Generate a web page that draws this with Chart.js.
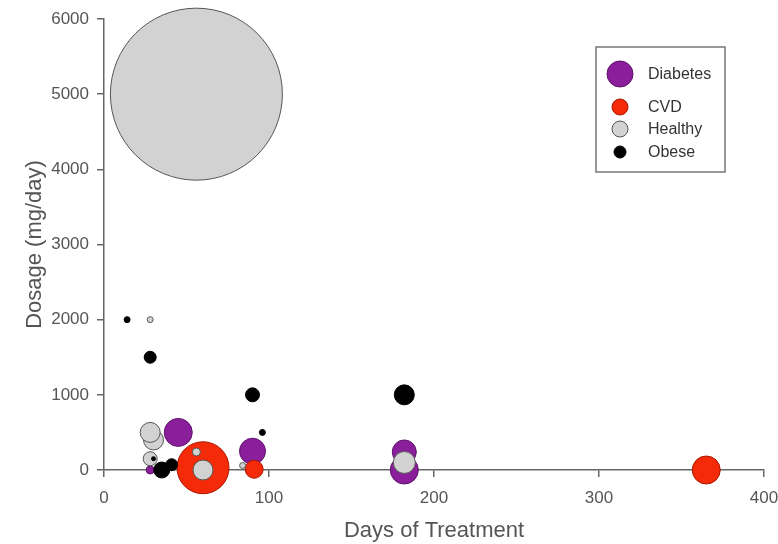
<!DOCTYPE html>
<html>
<head>
<meta charset="utf-8">
<script src="https://cdn.jsdelivr.net/npm/chart.js@4/dist/chart.umd.min.js"></script>
<style>
  html, body { margin: 0; padding: 0; background: #fff; }
  canvas { display: block; }
</style>
</head>
<body>
<canvas id="chart" width="778" height="544"></canvas>
<script>
// Bubble data: days, dosage (mg/day), bubble radius (px)
const seriesNames = ['Diabetes', 'CVD', 'Healthy', 'Obese'];

const diabetesDays = [182, 182, 90, 45, 28];
const diabetesDose = [0, 240, 250, 500, 0];
const diabetesSize = [14, 12, 13, 14, 4];

const cvdDays = [60, 91, 365];
const cvdDose = [30, 10, 0];
const cvdSize = [26, 9, 14];

const healthyDays = [56, 28, 30, 28, 28, 56, 60, 84, 182];
const healthyDose = [5000, 2000, 400, 500, 150, 240, 0, 60, 100];
const healthySize = [86, 3, 10, 10, 7, 4, 10, 3, 11];

const obeseDays = [14, 28, 90, 96, 182, 30, 35, 41];
const obeseDose = [2000, 1500, 1000, 500, 1000, 150, 0, 70];
const obeseSize = [3, 6, 7, 3, 10, 2, 8, 6];

const xTicks = [0, 100, 200, 300, 400];
const yTicks = [0, 1000, 2000, 3000, 4000, 5000, 6000];

// legend symbol sizes (px)
const legendSize = [13, 8, 8, 6];

const fills = ['#8b1f9b', '#f42a08', '#d2d2d2', '#000000'];
const borders = ['#5c1168', '#a81800', '#555555', '#000000'];

function points(xs, ys, rs) {
    return xs.map((x, i) => ({ x: x, y: ys[i], r: rs[i] }));
}

const dataSets = [
    points(diabetesDays, diabetesDose, diabetesSize),
    points(cvdDays, cvdDose, cvdSize),
    points(healthyDays, healthyDose, healthySize),
    points(obeseDays, obeseDose, obeseSize)
];

// custom boxed legend with different symbol sizes
const boxLegend = {
    id: 'boxLegend',
    afterDraw(chart) {
        const ctx = chart.ctx;
        const bx = 596, by = 47, bw = 129, bh = 125;
        ctx.save();
        ctx.strokeStyle = '#777';
        ctx.lineWidth = 1.5;
        ctx.strokeRect(bx, by, bw, bh);
        const rowY = [74, 107, 129, 152];
        ctx.font = '16px "Liberation Sans", Arial, sans-serif';
        ctx.textBaseline = 'middle';
        seriesNames.forEach((name, i) => {
            ctx.beginPath();
            ctx.arc(620, rowY[i], legendSize[i], 0, Math.PI * 2);
            ctx.fillStyle = fills[i];
            ctx.fill();
            ctx.lineWidth = 1;
            ctx.strokeStyle = borders[i];
            ctx.stroke();
            ctx.fillStyle = '#333';
            ctx.fillText(name, 648, rowY[i] + 1);
        });
        ctx.restore();
    }
};

const tickFont = { family: '"Liberation Sans", Arial, sans-serif', size: 17 };
const titleFont = { family: '"Liberation Sans", Arial, sans-serif', size: 22 };

new Chart(document.getElementById('chart'), {
    type: 'bubble',
    data: {
        datasets: seriesNames.map((name, i) => ({
            label: name,
            data: dataSets[i],
            backgroundColor: fills[i],
            borderColor: borders[i],
            borderWidth: 1,
            clip: false,
            order: [3, 2, 1, 0][i]
        }))
    },
    options: {
        responsive: false,
        animation: false,
        devicePixelRatio: 1,
        layout: { autoPadding: false, padding: { top: 19, right: 14, left: 0, bottom: 0 } },
        plugins: { legend: { display: false }, tooltip: { enabled: false } },
        scales: {
            x: {
                type: 'linear', min: 0, max: 400,
                afterBuildTicks: s => { s.ticks = xTicks.map(v => ({ value: v })); },
                afterFit: s => { s.height = 74; s.paddingLeft = 0; s.paddingRight = 0; },
                grid: { display: true, drawOnChartArea: false, drawTicks: true, tickLength: 7, color: '#666', lineWidth: 1.5 },
                border: { color: '#666', width: 1.5 },
                ticks: { color: '#555', font: tickFont, padding: 11, maxRotation: 0, callback: v => String(v) },
                title: { display: true, text: 'Days of Treatment', color: '#555', font: titleFont, padding: { top: 0, bottom: 0 } }
            },
            y: {
                type: 'linear', min: 0, max: 6000,
                afterBuildTicks: s => { s.ticks = yTicks.map(v => ({ value: v })); },
                afterFit: s => { s.width = 104; s.paddingTop = 0; s.paddingBottom = 0; },
                grid: { display: true, drawOnChartArea: false, drawTicks: true, tickLength: 7, color: '#666', lineWidth: 1.5 },
                border: { color: '#666', width: 1.5 },
                ticks: { color: '#555', font: tickFont, padding: 8, callback: v => String(v) },
                title: { display: true, text: 'Dosage (mg/day)', color: '#555', font: titleFont, padding: { top: 22, bottom: 0 } }
            }
        }
    },
    plugins: [boxLegend]
});
</script>
</body>
</html>
